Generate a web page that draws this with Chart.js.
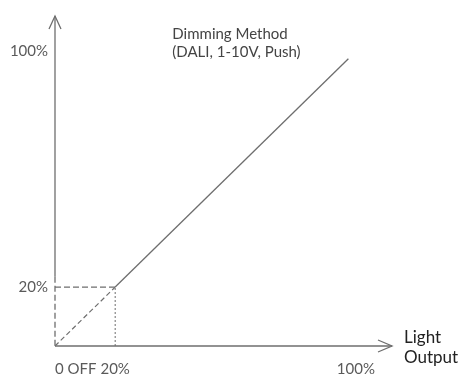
<!doctype html>
<html lang="en">
<head>
<meta charset="utf-8">
<title>Dimming curve</title>
<script src="https://cdn.jsdelivr.net/npm/chart.js@4/dist/chart.umd.min.js"></script>
<style>
  html, body { margin: 0; padding: 0; background: #fff; }
  #wrap { width: 470px; height: 374px; }
</style>
</head>
<body>
<div id="wrap"><canvas id="dimChart"></canvas></div>
<script>
// values (percent)
const axisMax = 112;
const minLevel = 20;               // 20% knee: below it the output is OFF
const rampX = [20, 97.5];          // solid dimming line
const rampY = [20, 97.5];
const xTickValues = [20, 100];
const xTickLabels = ['20%', '100%'];
const yTickValues = [20, 100];
const yTickLabels = ['20%', '100%'];
const originTick = [0];
const originLabel = ['0 OFF'];
const titleLines = ['Dimming Method', '(DALI, 1-10V, Push)'];
const outputLines = ['Light', 'Output'];

const lineGrey = '#6e6e6e';
const txtGrey = '#5a5a5a';
const fontFam = "Lato, 'Open Sans', sans-serif";

function pts(xs, ys) {
  return xs.map(function (x, i) { return { x: x, y: ys[i] }; });
}

// axes with arrow heads + free text
const decor = {
  id: 'decor',
  afterLayout(chart) {
    // the "0 OFF" axis gets no height of its own; give it the x axis band so its label is not clipped
    const xo = chart.scales.xo, x = chart.scales.x;
    xo.top = x.top;
    xo.bottom = x.bottom;
    xo.height = x.bottom - x.top;
  },
  beforeDatasetsDraw(chart) {
    const ctx = chart.ctx;
    const xs = chart.scales.x, ys = chart.scales.y;
    const x0 = xs.getPixelForValue(0), y0 = ys.getPixelForValue(0);
    const xEnd = xs.getPixelForValue(axisMax), yEnd = ys.getPixelForValue(axisMax);
    const yDashTop = ys.getPixelForValue(minLevel + 3.5);
    ctx.save();
    ctx.strokeStyle = lineGrey;
    ctx.lineWidth = 1.3;
    // y axis: solid above, dashed near the origin
    ctx.beginPath();
    ctx.moveTo(x0, yEnd); ctx.lineTo(x0, yDashTop);
    ctx.stroke();
    ctx.setLineDash([6, 3]);
    ctx.beginPath();
    ctx.moveTo(x0, yDashTop); ctx.lineTo(x0, y0);
    ctx.stroke();
    ctx.setLineDash([]);
    // x axis
    ctx.beginPath();
    ctx.moveTo(x0, y0); ctx.lineTo(xEnd, y0);
    ctx.stroke();
    // arrow heads
    ctx.beginPath();
    ctx.moveTo(x0 - 6, yEnd + 13); ctx.lineTo(x0, yEnd); ctx.lineTo(x0 + 6, yEnd + 13);
    ctx.moveTo(xEnd - 14, y0 - 6); ctx.lineTo(xEnd, y0); ctx.lineTo(xEnd - 14, y0 + 6);
    ctx.stroke();
    ctx.restore();
  },
  afterDraw(chart) {
    const ctx = chart.ctx;
    const xs = chart.scales.x, ys = chart.scales.y;
    ctx.save();
    ctx.textBaseline = 'middle';
    ctx.textAlign = 'left';
    ctx.fillStyle = '#444';
    ctx.font = '400 15px ' + fontFam;
    const tx = xs.getPixelForValue(39);
    titleLines.forEach(function (t, i) {
      ctx.fillText(t, tx, ys.getPixelForValue(106) + i * 18);
    });
    ctx.fillStyle = '#222';
    ctx.font = '400 17px ' + fontFam;
    const ox = xs.getPixelForValue(axisMax) + 12;
    outputLines.forEach(function (t, i) {
      ctx.fillText(t, ox, ys.getPixelForValue(0) - 8 + i * 20);
    });
    ctx.restore();
  }
};

new Chart('dimChart', {
  type: 'line',
  data: {
    datasets: [
      { data: pts(rampX, rampY), borderColor: lineGrey, borderWidth: 1.3 },
      { data: pts([0, minLevel], [0, minLevel]), borderColor: lineGrey, borderWidth: 1.2, borderDash: [5, 3] },
      { data: pts([0, minLevel], [minLevel, minLevel]), borderColor: lineGrey, borderWidth: 1.2, borderDash: [6, 3] },
      { data: pts([minLevel, minLevel], [0, minLevel]), borderColor: lineGrey, borderWidth: 1, borderDash: [2, 2] }
    ]
  },
  options: {
    responsive: true,
    maintainAspectRatio: false,
    animation: false,
    layout: { padding: { top: 10, right: 78, left: 0, bottom: 0 } },
    elements: { point: { radius: 0 }, line: { tension: 0 } },
    datasets: { line: { clip: 6 } },
    plugins: { legend: { display: false }, tooltip: { enabled: false } },
    scales: {
      x: {
        type: 'linear', position: 'bottom', min: 0, max: axisMax, weight: 0,
        grid: { display: false, drawTicks: false }, border: { display: false },
        afterBuildTicks: function (s) { s.ticks = xTickValues.map(function (v) { return { value: v }; }); },
        afterFit: function (s) { s.height = 28; },
        ticks: {
          autoSkip: false, maxRotation: 0, padding: 14, color: txtGrey,
          font: { family: fontFam, size: 15 },
          callback: function (v) { return xTickLabels[xTickValues.indexOf(v)]; }
        }
      },
      xo: {
        type: 'linear', position: 'bottom', min: 0, max: axisMax, weight: -1,
        grid: { display: false, drawTicks: false }, border: { display: false },
        afterBuildTicks: function (s) { s.ticks = originTick.map(function (v) { return { value: v }; }); },
        afterFit: function (s) { s.height = 0; },
        ticks: {
          autoSkip: false, maxRotation: 0, padding: 14, align: 'start', color: txtGrey,
          font: { family: fontFam, size: 15 },
          callback: function (v) { return originLabel[originTick.indexOf(v)]; }
        }
      },
      y: {
        type: 'linear', position: 'left', min: 0, max: axisMax,
        grid: { display: false, drawTicks: false }, border: { display: false },
        afterBuildTicks: function (s) { s.ticks = yTickValues.map(function (v) { return { value: v }; }); },
        afterFit: function (s) { s.width = 55; },
        ticks: {
          autoSkip: false, padding: 7, color: txtGrey,
          font: { family: fontFam, size: 15 },
          callback: function (v) { return yTickLabels[yTickValues.indexOf(v)]; }
        }
      }
    }
  },
  plugins: [decor]
});
</script>
</body>
</html>
